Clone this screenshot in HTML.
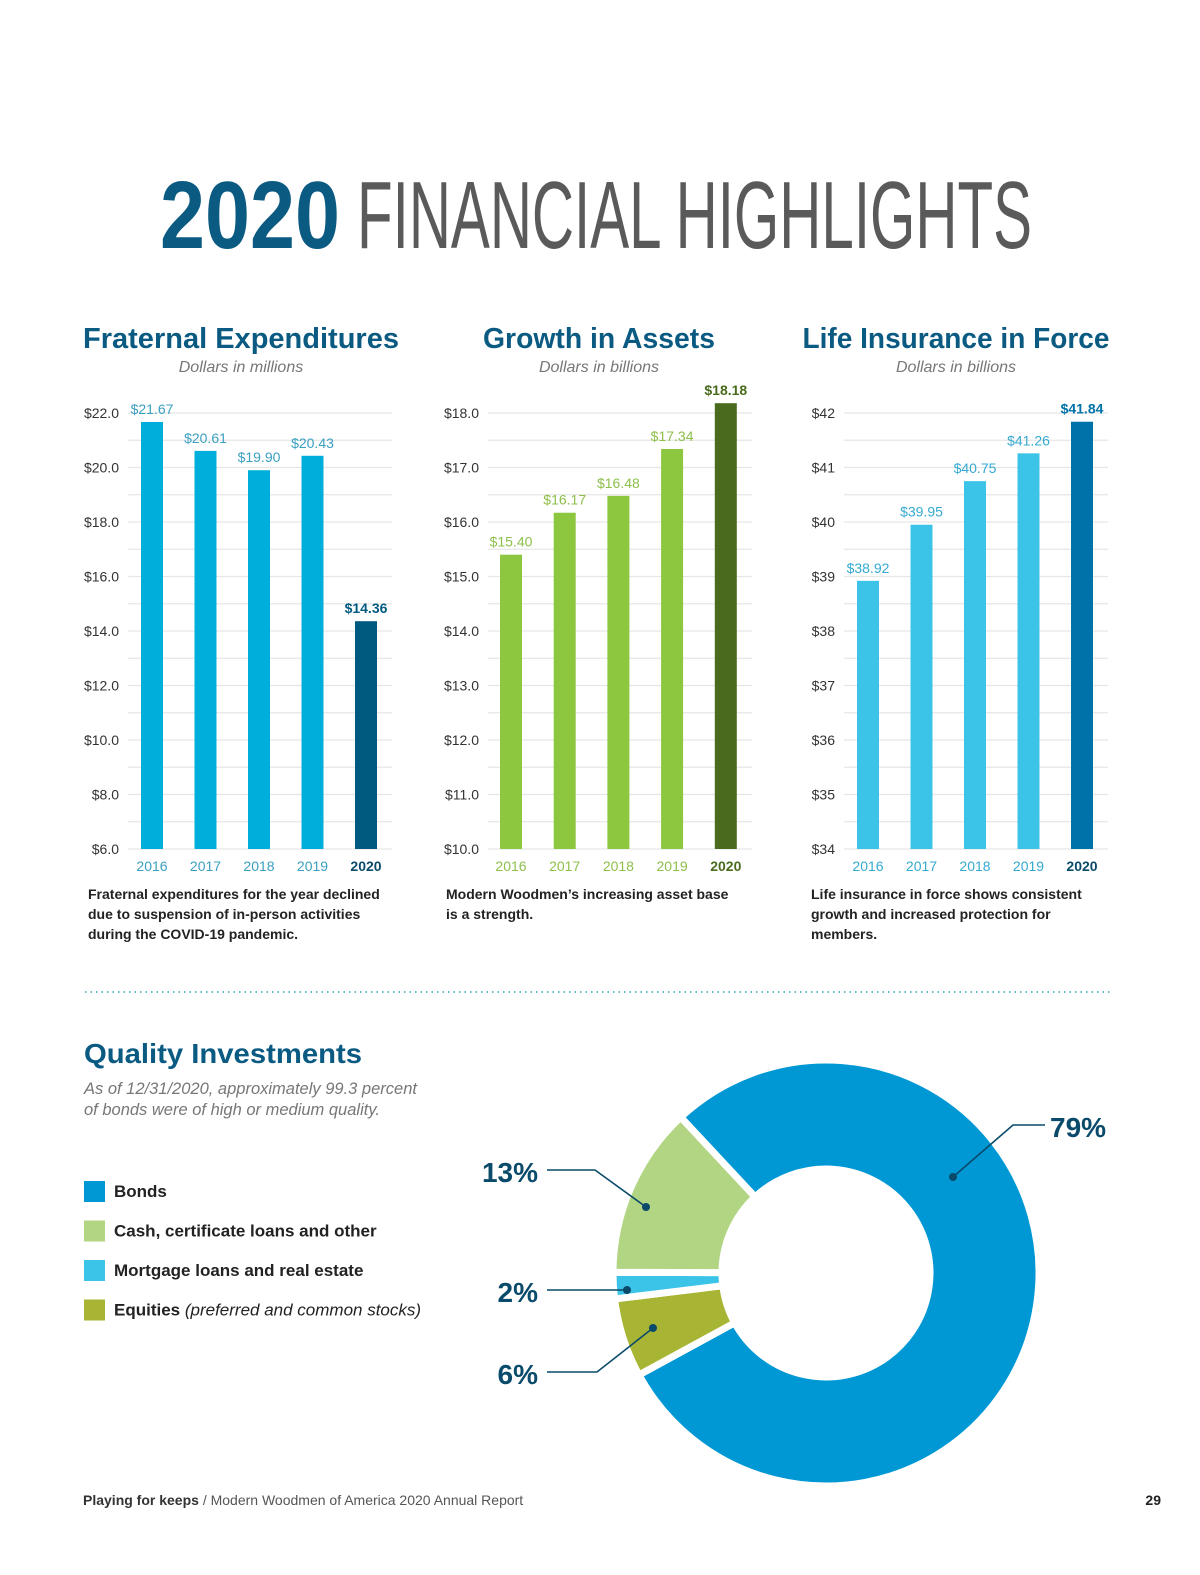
<!DOCTYPE html>
<html><head><meta charset="utf-8"><style>
body{margin:0;background:#fff}
svg{display:block}
text{font-family:"Liberation Sans",sans-serif}
</style></head><body>
<svg id="s" width="1200" height="1575" viewBox="0 0 1200 1575">
<text x="160" y="248" font-size="96" font-weight="bold" fill="#0a5a82" textLength="180" lengthAdjust="spacingAndGlyphs">2020</text>
<text x="357" y="248" font-size="96" fill="#5a5a5a" textLength="675" lengthAdjust="spacingAndGlyphs">FINANCIAL HIGHLIGHTS</text>

<text x="241" y="348" font-size="29" font-weight="bold" fill="#0a5a82" text-anchor="middle" textLength="316" lengthAdjust="spacingAndGlyphs">Fraternal Expenditures</text>
<text x="241" y="372" font-size="16" font-style="italic" fill="#777" text-anchor="middle">Dollars in millions</text>
<text x="599" y="348" font-size="29" font-weight="bold" fill="#0a5a82" text-anchor="middle" textLength="232" lengthAdjust="spacingAndGlyphs">Growth in Assets</text>
<text x="599" y="372" font-size="16" font-style="italic" fill="#777" text-anchor="middle">Dollars in billions</text>
<text x="956" y="348" font-size="29" font-weight="bold" fill="#0a5a82" text-anchor="middle" textLength="307" lengthAdjust="spacingAndGlyphs">Life Insurance in Force</text>
<text x="956" y="372" font-size="16" font-style="italic" fill="#777" text-anchor="middle">Dollars in billions</text>

<g id="c1"></g>
<g id="c2"></g>
<g id="c3"></g>

<g font-size="14" font-weight="bold" fill="#222">
<text x="88" y="899"><tspan x="88">Fraternal expenditures for the year declined</tspan><tspan x="88" dy="20">due to suspension of in-person activities</tspan><tspan x="88" dy="20">during the COVID-19 pandemic.</tspan></text>
<text x="446" y="899"><tspan x="446">Modern Woodmen’s increasing asset base</tspan><tspan x="446" dy="20">is a strength.</tspan></text>
<text x="811" y="899"><tspan x="811">Life insurance in force shows consistent</tspan><tspan x="811" dy="20">growth and increased protection for</tspan><tspan x="811" dy="20">members.</tspan></text>
</g>

<line x1="85" y1="992" x2="1110" y2="992" stroke="#5bbfc0" stroke-width="2" stroke-dasharray="1.5 4"/>

<text x="84" y="1063" font-size="28" font-weight="bold" fill="#0a5a82" textLength="278" lengthAdjust="spacingAndGlyphs">Quality Investments</text>
<text font-size="16.5" font-style="italic" fill="#777"><tspan x="84" y="1094">As of 12/31/2020, approximately 99.3 percent</tspan><tspan x="84" y="1115">of bonds were of high or medium quality.</tspan></text>

<g id="legend"></g>
<g id="donut"></g>

<text x="83" y="1505" font-size="14" fill="#333"><tspan font-weight="bold">Playing for keeps</tspan><tspan fill="#555">  /  Modern Woodmen of America 2020 Annual Report</tspan></text>
<text x="1161" y="1505" font-size="14" font-weight="bold" fill="#222" text-anchor="end">29</text>
</svg>
<script>
const NS="http://www.w3.org/2000/svg";
const years=["2016","2017","2018","2019","2020"];
const fraternalValues=[21.67,20.61,19.90,20.43,14.36];
const fraternalTicks=["$6.0","$8.0","$10.0","$12.0","$14.0","$16.0","$18.0","$20.0","$22.0"];
const assetValues=[15.40,16.17,16.48,17.34,18.18];
const assetTicks=["$10.0","$11.0","$12.0","$13.0","$14.0","$15.0","$16.0","$17.0","$18.0"];
const insuranceValues=[38.92,39.95,40.75,41.26,41.84];
const insuranceTicks=["$34","$35","$36","$37","$38","$39","$40","$41","$42"];
const investLabels=["Bonds","Cash, certificate loans and other","Mortgage loans and real estate","Equities"];
const investShares=[79,13,2,6];

function el(tag,attrs,parent,txt){const e=document.createElementNS(NS,tag);for(const k in attrs)e.setAttribute(k,attrs[k]);if(txt!==undefined)e.textContent=txt;parent.appendChild(e);return e;}

function barChart(id,vals,ticks,cfg){
  const g=document.getElementById(id);
  const tv=ticks.map(t=>parseFloat(t.replace('$','')));
  const vmin=tv[0],vmax=tv[tv.length-1],y0=849,y1=413;
  const y=v=>y0-(v-vmin)/(vmax-vmin)*(y0-y1);
  const step=(tv[1]-tv[0])/2;
  for(let v=vmin;v<=vmax+1e-9;v+=step){
    const gl=el('line',{x1:cfg.gx0,x2:cfg.gx1,y1:y(v),y2:y(v),stroke:'#e6e6e6','stroke-width':1.2},g);
    
    
  }
  ticks.forEach((t,i)=>{
    const tx=el('text',{x:cfg.tickX,y:y(tv[i])+5,'font-size':14,fill:'#333','text-anchor':'end'},g,t);
    
    
  });
  vals.forEach((v,i)=>{
    const cx=cfg.x0+i*cfg.dx,last=i===vals.length-1;
    const r=el('rect',{x:cx-11,y:y(v),width:22,height:y0-y(v),fill:last?cfg.dark:cfg.color},g);
    
    
    const lx=cx+(cfg.lblOff?cfg.lblOff[i]:0);
    const lt=el('text',{x:lx,y:y(v)-(cfg.lblAbove?cfg.lblAbove[i]:8),'font-size':14,fill:last?cfg.dark:cfg.lbl,'font-weight':last?'bold':'normal','text-anchor':'middle'},g,'$'+v.toFixed(2));
    
    
    const xt=el('text',{x:cx,y:871,'font-size':14,fill:last?cfg.darkText:cfg.lbl,'font-weight':last?'bold':'normal','text-anchor':'middle'},g,years[i]);
    
    
  });
}
barChart('c1',fraternalValues,fraternalTicks,{gx0:128,gx1:392,tickX:119,x0:152,dx:53.5,color:'#00aedb',dark:'#005a80',darkText:'#0a4a6a',lbl:'#3a9fc0',lblOff:[0,0,0,0,0],lblAbove:[8,8,8,8,8]});
barChart('c2',assetValues,assetTicks,{gx0:488,gx1:752,tickX:479,x0:511,dx:53.7,color:'#8dc63f',dark:'#4a6b1e',darkText:'#4a6b1e',lbl:'#8dbf4a'});
barChart('c3',insuranceValues,insuranceTicks,{gx0:844,gx1:1108,tickX:835,x0:868,dx:53.5,color:'#3cc4e8',dark:'#0072aa',darkText:'#0a4a6a',lbl:'#35aad0'});

// legend
const legColors=['#0098d4','#b1d583','#3cc4e8','#a8b534'];
const lg=document.getElementById('legend');
investLabels.forEach((l,i)=>{
  const yy=1181+i*39.5;
  const r=el('rect',{x:84,y:yy,width:21,height:21,fill:legColors[i]},lg);
  
  
  const t=el('text',{x:114,y:yy+16,'font-size':17,'font-weight':'bold',fill:'#222'},lg,l);
  
  
  if(i===3){const ts=el('tspan',{'font-weight':'normal','font-style':'italic'},t,' (preferred and common stocks)');}
});

// donut
const dg=document.getElementById('donut');
const cx=826,cy=1273,R=213,r=104;
const order=[0,3,2,1]; // bonds, equities, mortgage, cash clockwise
let ang=317;
const pt=(a,rad)=>[cx+rad*Math.sin(a*Math.PI/180),cy-rad*Math.cos(a*Math.PI/180)];
const mids={};
order.forEach(k=>{
  const sw=investShares[k]/100*360,a0=ang,a1=ang+sw;
  const large=sw>180?1:0;
  const [x0,y0]=pt(a0,R),[x1,y1]=pt(a1,R),[x2,y2]=pt(a1,r),[x3,y3]=pt(a0,r);
  const p=el('path',{d:`M${x0},${y0}A${R},${R} 0 ${large} 1 ${x1},${y1}L${x2},${y2}A${r},${r} 0 ${large} 0 ${x3},${y3}Z`,fill:legColors[k],stroke:'#fff','stroke-width':7,'stroke-linejoin':'miter'},dg);
  
  
  mids[k]=(a0+a1)/2;
  ang=a1;
});
// callouts
const calls=[
 {k:0,dot:[953,1177],pts:'953,1177 1013,1125 1045,1125',tx:1050,ty:1137,anchor:'start'},
 {k:1,dot:[646,1207],pts:'646,1207 595,1170 547,1170',tx:538,ty:1182,anchor:'end'},
 {k:2,dot:[627,1290],pts:'627,1290 547,1290',tx:538,ty:1302,anchor:'end'},
 {k:3,dot:[653,1328],pts:'653,1328 597,1372 547,1372',tx:538,ty:1384,anchor:'end'}
];
calls.forEach(c=>{
  const pl=el('polyline',{points:c.pts,fill:'none',stroke:'#0a4a6a','stroke-width':1.6},dg);
  
  
  const d=el('circle',{cx:c.dot[0],cy:c.dot[1],r:4,fill:'#0a4a6a'},dg);
  
  
  const t=el('text',{x:c.tx,y:c.ty,'font-size':28,'font-weight':'bold',fill:'#0a4a6a','text-anchor':c.anchor},dg,investShares[c.k]+'%');
  
  
});
</script>
</body></html>
